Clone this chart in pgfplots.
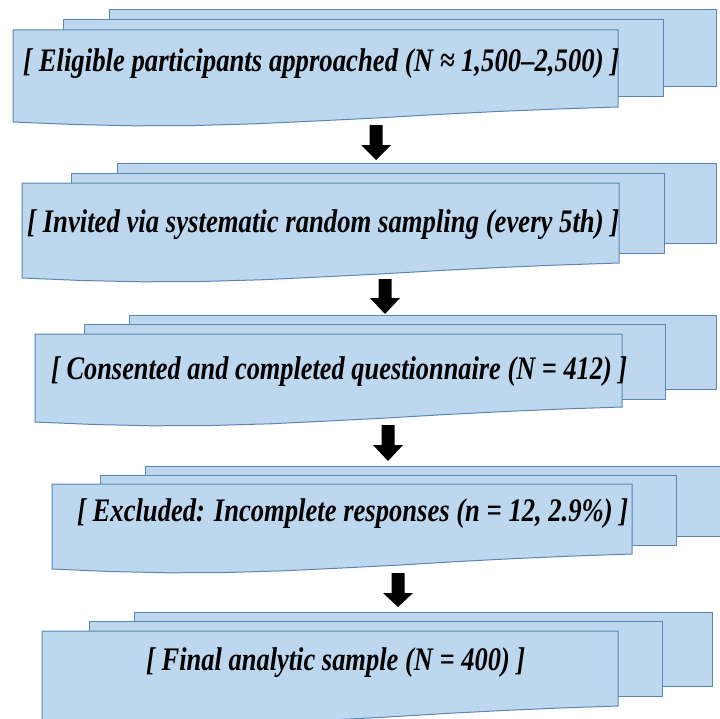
\documentclass[border=0pt]{standalone}
\usepackage{pgfplots}
\pgfplotsset{compat=1.18}
\usepackage{fontspec}
\setmainfont{Liberation Serif}
\usepackage{graphicx}

\definecolor{sheet}{HTML}{BDD7EE}
\definecolor{edge}{HTML}{5A85B5}

\begin{document}
\begin{tikzpicture}
\begin{axis}[
    width=720bp, height=718bp, scale only axis,
    xmin=0, xmax=720, ymin=0, ymax=718,
    y dir=reverse, hide axis, clip=true, no markers,
    every axis plot/.append style={line width=1bp, line join=miter},
  ]
  % block 1: eligible
  \addplot[fill=sheet, draw=edge] coordinates {(109,10) (716,10) (716,87) (109,87)} --cycle;
  \addplot[fill=sheet, draw=edge] coordinates {(63,20) (663,20) (663,97) (63,97)} --cycle;
  \addplot[fill=sheet, draw=edge] coordinates {(13,30) (618,30) (618,107) (558,109) (497,111.5) (437,114.5)
    (376,118) (316,121) (255,123.8) (195,125.5) (134,125.8) (74,124.5) (13,122)} --cycle;
  \addplot[fill=black, draw=none] coordinates {(369.5,125) (382.5,125) (382.5,145) (391,145) (376,160) (361,145) (369.5,145)} --cycle;

  % block 2: invited
  \addplot[fill=sheet, draw=edge] coordinates {(117,163) (716,163) (716,243) (117,243)} --cycle;
  \addplot[fill=sheet, draw=edge] coordinates {(71,173) (664,173) (664,253) (71,253)} --cycle;
  \addplot[fill=sheet, draw=edge] coordinates {(22,183) (619,183) (619,263) (559,265) (500,267.5) (440,270.5)
    (380,274) (320,277) (261,279.8) (201,281.5) (141,281.8) (82,280.5) (22,278)} --cycle;
  \addplot[fill=black, draw=none] coordinates {(378.5,279) (391.5,279) (391.5,298) (400,298) (385,314) (370,298) (378.5,298)} --cycle;

  % block 3: consented
  \addplot[fill=sheet, draw=edge] coordinates {(129,315) (716,315) (716,389) (129,389)} --cycle;
  \addplot[fill=sheet, draw=edge] coordinates {(84,324) (665,324) (665,399) (84,399)} --cycle;
  \addplot[fill=sheet, draw=edge] coordinates {(35,334) (622,334) (622,407) (563,409) (505,411.5) (446,414.5)
    (387,418) (328,421) (270,423.8) (211,425.5) (152,425.8) (94,424.5) (35,422)} --cycle;
  \addplot[fill=black, draw=none] coordinates {(381.5,425) (394.5,425) (394.5,445) (403,445) (388,461) (373,445) (381.5,445)} --cycle;

  % block 4: excluded
  \addplot[fill=sheet, draw=edge] coordinates {(145,466) (725,466) (725,536) (145,536)} --cycle;
  \addplot[fill=sheet, draw=edge] coordinates {(100,475) (676,475) (676,545) (100,545)} --cycle;
  \addplot[fill=sheet, draw=edge] coordinates {(52,484) (632,484) (632,554) (574,556) (516,558.5) (458,561.5)
    (400,565) (342,568) (284,570.8) (226,572.5) (168,572.8) (110,571.5) (52,569)} --cycle;
  \addplot[fill=black, draw=none] coordinates {(391.5,573) (404.5,573) (404.5,593) (413,593) (398,607) (383,593) (391.5,593)} --cycle;

  % block 5: final sample
  \addplot[fill=sheet, draw=edge] coordinates {(134,612) (712,612) (712,686) (134,686)} --cycle;
  \addplot[fill=sheet, draw=edge] coordinates {(89,621) (662,621) (662,696) (89,696)} --cycle;
  \addplot[fill=sheet, draw=edge] coordinates {(42,631) (618,631) (618,706) (560,708) (503,710.5) (445,713.5)
    (388,717) (330,720) (272,722.8) (215,724.5) (157,724.8) (100,723.5) (42,721)} --cycle;

  \tikzset{lbl/.style={anchor=base west, inner sep=0pt, font=\fontsize{33}{38}\selectfont\bfseries\itshape}}
  \node[lbl] at (axis cs:23,72) {\resizebox{596bp}{\height}{[ Eligible participants approached (N ≈ 1,500–2,500) ]}};
  \node[lbl] at (axis cs:27,232) {\resizebox{592bp}{\height}{[ Invited via systematic random sampling (every 5th) ]}};
  \node[lbl] at (axis cs:51,379) {\resizebox{576bp}{\height}{[ Consented and completed questionnaire (N = 412) ]}};
  \node[lbl] at (axis cs:77,521) {\resizebox{551bp}{\height}{[ Excluded: Incomplete responses (n = 12, 2.9\%) ]}};
  \node[lbl] at (axis cs:146,670) {\resizebox{379bp}{\height}{[ Final analytic sample (N = 400) ]}};
\end{axis}
\pgfresetboundingbox
\path[use as bounding box] (current axis.south west) rectangle (current axis.north east);
\end{tikzpicture}
\end{document}
